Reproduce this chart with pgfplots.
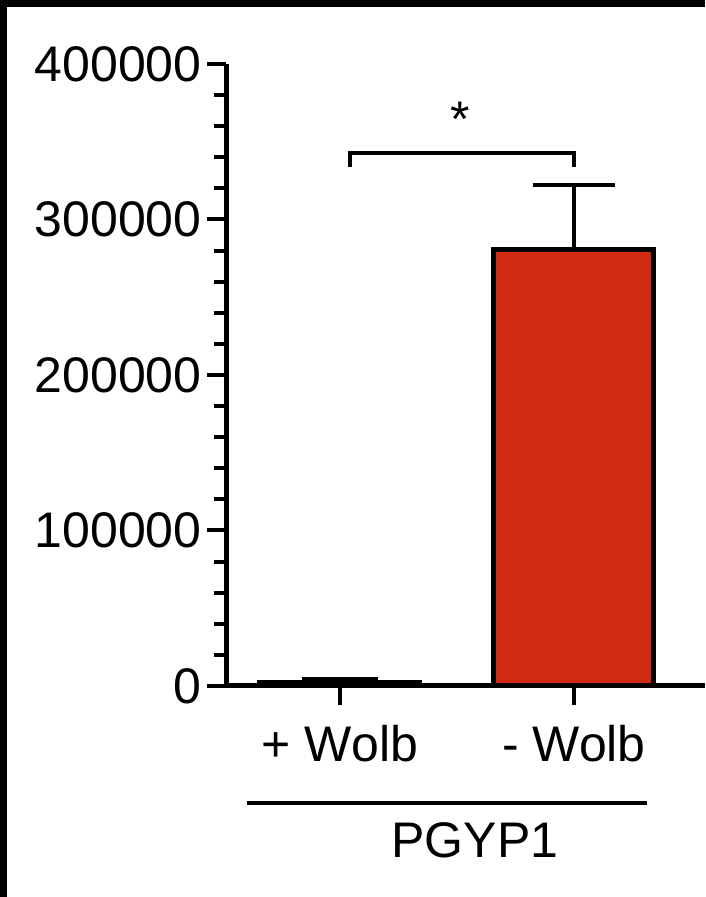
\documentclass[border=0pt]{standalone}
\usepackage{fontspec}
\setmainfont{Liberation Sans}
\usepackage{pgfplots}
\pgfplotsset{compat=1.18}
\definecolor{barred}{RGB}{208,42,18}
\begin{document}
\begin{tikzpicture}[x=0.5pt,y=0.5pt,font=\fontsize{25}{30}\selectfont]
\useasboundingbox (0,0) rectangle (705,897);
\fill[white] (0,0) rectangle (705,897);
\fill[black] (0,0) rectangle (7,897);
\fill[black] (0,890) rectangle (705,897);
\begin{axis}[
  at={(113pt,105.5pt)}, anchor=south west,
  scale only axis, width=239.5pt, height=311pt,
  xmin=-0.487, xmax=1.560, ymin=0, ymax=400000,
  clip=false,
  axis x line=bottom, axis y line=left,
  axis line style={-, line width=2.5pt},
  tick align=outside,
  major tick length=9.5pt, minor tick length=6pt,
  every tick/.style={line width=2pt, black},
  xtick={0,1}, xticklabels={+ Wolb, - Wolb},
  ytick={0,100000,200000,300000,400000},
  yticklabels={0,100000,200000,300000,400000},
  scaled y ticks=false,
  minor y tick num=4,
  yticklabel style={inner sep=0pt, xshift=-2.5pt},
  xticklabel style={inner sep=0pt, yshift=-10pt},
  tick label style={font=\fontsize{25}{30}\selectfont},
]
\addplot[ybar, bar width=80pt, fill=white, draw=black, line width=2.5pt,
  error bars/.cd, y dir=plus, y explicit,
  error bar style={line width=2pt, black},
  error mark options={rotate=90, mark size=19pt, line width=2pt, black}]
  coordinates {(0,2500) +- (0,2000)};
\addplot[ybar, bar width=80pt, fill=barred, draw=black, line width=2.5pt,
  error bars/.cd, y dir=plus, y explicit,
  error bar style={line width=2pt, black},
  error mark options={rotate=90, mark size=20.5pt, line width=2pt, black}]
  coordinates {(1,280500) +- (0,41800)};
\draw[line width=2pt] (axis cs:0.043,333700) -- (axis cs:0.043,342800) -- (axis cs:1.0,342800) -- (axis cs:1.0,333700);
\end{axis}
\node[anchor=base, inner sep=0pt] at (460,760) {*};
\draw[line width=2pt] (247,94) -- (647,94);
\node[anchor=base, inner sep=0pt] at (475,39) {PGYP1};
\end{tikzpicture}
\end{document}
